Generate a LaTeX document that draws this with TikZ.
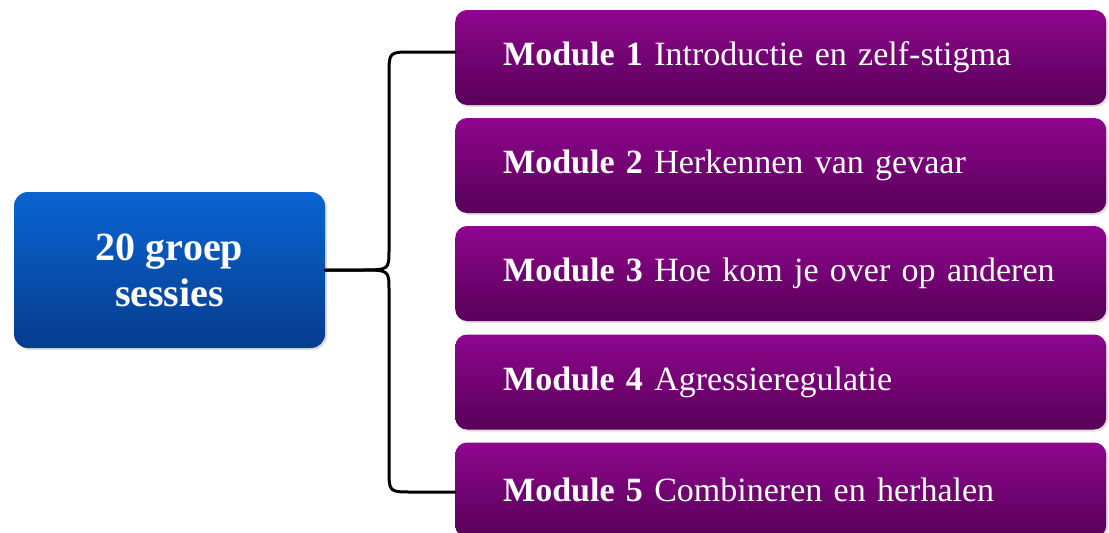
\documentclass[tikz,border=0pt]{standalone}
\usepackage{fontspec}
\setmainfont{Liberation Serif}
\usetikzlibrary{shadows}

\definecolor{hubtop}{RGB}{10,100,210}
\definecolor{hubbot}{RGB}{6,60,142}
\definecolor{modtop}{RGB}{142,6,142}
\definecolor{modbot}{RGB}{88,0,88}

\begin{document}
\begin{tikzpicture}[x=1pt,y=-1pt]
\tikzset{hub/.style={rounded corners=14pt,minimum width=311pt,minimum height=156pt,
    top color=hubtop,bottom color=hubbot,draw=none,text=white,align=center,
    font=\fontsize{40}{46}\selectfont\bfseries,drop shadow={opacity=0.25,shadow xshift=2pt,shadow yshift=-2pt}},
  module/.style={rounded corners=12pt,minimum height=95pt,text width=555pt,inner xsep=48pt,
    align=left,anchor=west,top color=modtop,bottom color=modbot,draw=none,text=white,
    font=\fontsize{34}{40}\selectfont,drop shadow={opacity=0.25,shadow xshift=2pt,shadow yshift=-2pt}},
  brace/.style={draw=black,line width=3pt,line cap=round}}

\useasboundingbox[fill=white] (0,0) rectangle (1109,533);

\path (169.5,270) node[hub] (hub) {20 groep\\sessies};

\path (455,57.5) node[module] (m1) {\textbf{Module 1} Introductie en zelf-stigma};
\path (455,165.5) node[module] (m2) {\textbf{Module 2} Herkennen van gevaar};
\path (455,273.5) node[module] (m3) {\textbf{Module 3} Hoe kom je over op anderen};
\path (455,382) node[module] (m4) {\textbf{Module 4} Agressieregulatie};
\path (455,490) node[module] (m5) {\textbf{Module 5} Combineren en herhalen};

% curly bracket from the hub to the first and last module
\draw[brace] ([yshift=5.5pt]m1.west) -- (412,52) .. controls (389,52) .. (389,75)
  -- (389,250) .. controls (389,270) .. (360,270) -- (hub.east);
\draw[brace] (hub.east) -- (360,270) .. controls (389,270) .. (389,290)
  -- (389,469) .. controls (389,492) .. (412,492) -- ([yshift=-2pt]m5.west);

\end{tikzpicture}
\end{document}
